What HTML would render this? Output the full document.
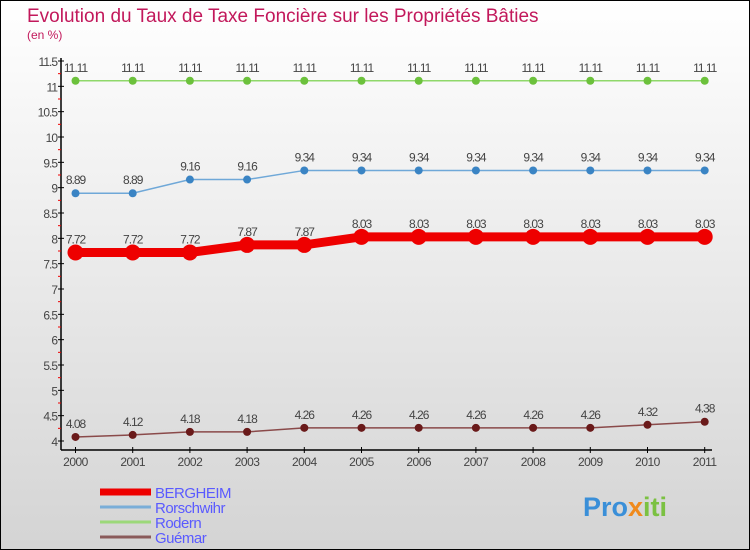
<!DOCTYPE html>
<html><head><meta charset="utf-8"><style>
body{margin:0;width:750px;height:550px;overflow:hidden;font-family:"Liberation Sans",sans-serif}
#c{position:absolute;left:0;top:0;width:748px;height:548px;border:1px solid #000;background:linear-gradient(#fff,#d4d4d4)}
</style></head><body>
<div id="c"></div>
<svg id="s" width="750" height="550" style="position:absolute;left:0;top:0">
<text x="27" y="22" font-size="19" fill="#c2185b">Evolution du Taux de Taxe Foncière sur les Propriétés Bâties</text>
<text x="27" y="39" font-size="12" fill="#c2185b">(en %)</text>
<g id="axes"></g><g id="series"></g><g id="legend"></g>
<text x="583" y="516" font-size="27" font-weight="bold" fill="#3a8fd8">Pro<tspan fill="#f08a1c">x</tspan><tspan fill="#7bc142">iti</tspan></text>
</svg>
<script>
const years=[2000,2001,2002,2003,2004,2005,2006,2007,2008,2009,2010,2011];
const yTicks=[4,4.5,5,5.5,6,6.5,7,7.5,8,8.5,9,9.5,10,10.5,11,11.5];
const bergheim=[7.72,7.72,7.72,7.87,7.87,8.03,8.03,8.03,8.03,8.03,8.03,8.03];
const rorschwihr=[8.89,8.89,9.16,9.16,9.34,9.34,9.34,9.34,9.34,9.34,9.34,9.34];
const rodern=[11.11,11.11,11.11,11.11,11.11,11.11,11.11,11.11,11.11,11.11,11.11,11.11];
const guemar=[4.08,4.12,4.18,4.18,4.26,4.26,4.26,4.26,4.26,4.26,4.32,4.38];
const seriesNames=["BERGHEIM","Rorschwihr","Rodern","Guémar"];
const NS="http://www.w3.org/2000/svg";
const X=i=>75.5+i*57.2;
const Y=v=>441-(v-4)/7.5*380;
function mk(t,a,p){const e=document.createElementNS(NS,t);for(const k in a)e.setAttribute(k,a[k]);p.appendChild(e);return e;}
const ax=document.getElementById('axes');
let l=mk('line',{x1:61,y1:58,x2:61,y2:450,stroke:'#000','stroke-width':1.5},ax);

l=mk('line',{x1:61,y1:450,x2:712,y2:450,stroke:'#000','stroke-width':1.5},ax);

yTicks.forEach((v,i)=>{
 mk('line',{x1:58,y1:Y(v),x2:64,y2:Y(v),stroke:'#000'},ax);
 if(i<yTicks.length-1) mk('line',{x1:58,y1:Y(v+0.25),x2:61,y2:Y(v+0.25),stroke:'#e00'},ax);
 const t=mk('text',{x:57,y:Y(v)+5,'font-size':12,fill:'#444','text-anchor':'end','letter-spacing':'-1'},ax);
 t.textContent=String(v);
 
 
});
years.forEach((y,i)=>{
 mk('line',{x1:X(i),y1:447,x2:X(i),y2:453,stroke:'#000'},ax);
 const t=mk('text',{x:X(i),y:466,'font-size':12,fill:'#444','text-anchor':'middle','letter-spacing':'-0.5'},ax);
 t.textContent=String(y);
 
 
});
const sg=document.getElementById('series');
const defs=[[rodern,'#8fd86a','#6cc13c',1.5,4,'rodern'],[rorschwihr,'#6fa8d8','#3a84c4',1.5,4,'rorschwihr'],[guemar,'#8a4a4a','#6a1a1a',1.5,4,'guemar'],[bergheim,'#ee0000','#ee0000',9,8,'bergheim']];
defs.forEach(([d,lc,pc,w,r,n])=>{
 const p=mk('polyline',{points:d.map((v,i)=>X(i)+','+Y(v)).join(' '),fill:'none',stroke:lc,'stroke-width':w},sg);
 
 
 d.forEach((v,i)=>{
  const c=mk('circle',{cx:X(i),cy:Y(v),r:r,fill:pc},sg);
  
  
  const t=mk('text',{x:X(i),y:Y(v)-9,'font-size':12,fill:'#444','text-anchor':'middle','letter-spacing':'-1'},sg);
  t.textContent=String(v);
  
  
 });
});
const lg=document.getElementById('legend');
const lcol=['#ee0000','#7aaed8','#9cd87a','#8a5a5a'];const lw=[7,3,3,3];
seriesNames.forEach((n,i)=>{
 const y=492+i*15;
 const r=mk('line',{x1:100,y1:y,x2:151,y2:y,stroke:lcol[i],'stroke-width':lw[i]},lg);
 
 
 const t=mk('text',{x:155,y:y+6,'font-size':15,fill:'#5a5aff','letter-spacing':'-0.5'},lg);
 t.textContent=n;
 
 
});
</script>
</body></html>
